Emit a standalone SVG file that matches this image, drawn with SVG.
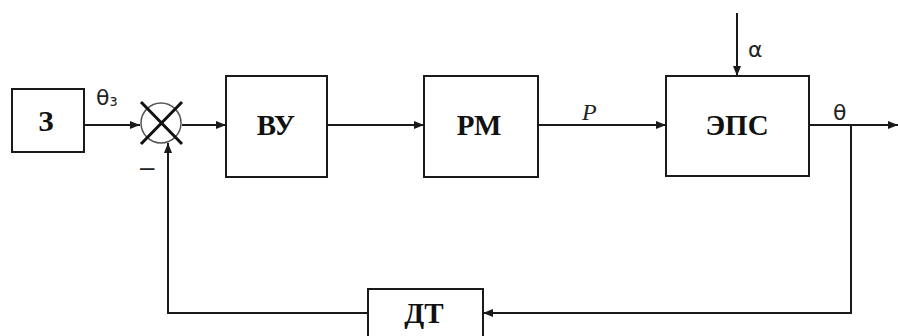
<svg xmlns="http://www.w3.org/2000/svg" width="898" height="336" viewBox="0 0 898 336">
<defs>
<marker id="ah" viewBox="0 0 10 10" refX="10" refY="5" markerWidth="10" markerHeight="10" markerUnits="userSpaceOnUse" orient="auto">
<path d="M0,1 L10,5 L0,9 Z" fill="#1a1a1a"/>
</marker>
</defs>
<style>
.box{fill:#fff;stroke:#1a1a1a;stroke-width:2}
.bt{font-family:"Liberation Serif","Times New Roman",serif;font-weight:bold;font-size:29px;fill:#111;text-anchor:middle}
.ln{fill:none;stroke:#1a1a1a;stroke-width:2}
.lb{font-family:"DejaVu Sans","Liberation Sans",Arial,sans-serif;font-size:22px;fill:#222}
.it{font-family:"Liberation Serif","Times New Roman",serif;font-style:italic;font-size:24px;fill:#222}
.mn{font-family:"Liberation Sans",Arial,sans-serif;font-size:26px;fill:#222}
</style>
<rect width="898" height="336" fill="#fff"/>
<g id="connectors">
<path class="ln" d="M84,125 H140" marker-end="url(#ah)"/>
<path class="ln" d="M182,125 H226" marker-end="url(#ah)"/>
<path class="ln" d="M327,125 H424" marker-end="url(#ah)"/>
<path class="ln" d="M538,125 H666" marker-end="url(#ah)"/>
<path class="ln" d="M737,13 V76" marker-end="url(#ah)"/>
<path class="ln" d="M809,125 H898" marker-end="url(#ah)"/>
<path class="ln" d="M851,125 V313 H483" marker-end="url(#ah)"/>
<path class="ln" d="M368,313 H168 V143" marker-end="url(#ah)"/>
</g>
<g id="node-z">
<rect class="box" x="12" y="89" width="72" height="63"/>
<text class="bt" x="46" y="131">З</text>
</g>
<g id="node-sum">
<circle cx="161" cy="123" r="20" fill="#fff" stroke="#555" stroke-width="1.5"/>
<path d="M141,102 L182,144 M182,102 L141,144" stroke="#111" stroke-width="3" fill="none"/>
</g>
<g id="node-vu">
<rect class="box" x="226" y="76" width="101" height="101"/>
<text class="bt" x="276" y="135">ВУ</text>
</g>
<g id="node-rm">
<rect class="box" x="424" y="76" width="114" height="101"/>
<text class="bt" x="479" y="135">РМ</text>
</g>
<g id="node-eps">
<rect class="box" x="666" y="76" width="143" height="100"/>
<text class="bt" x="737" y="135">ЭПС</text>
</g>
<g id="node-dt">
<rect class="box" x="368" y="289" width="115" height="52"/>
<text class="bt" x="424" y="323">ДТ</text>
</g>
<g id="labels">
<text class="lb" x="96" y="105">θ<tspan font-size="15" dy="1">з</tspan></text>
<text class="it" x="582" y="120">P</text>
<text class="lb" x="748" y="57">α</text>
<text class="lb" x="833" y="120">θ</text>
<text class="mn" x="140" y="176">–</text>
</g>
</svg>
